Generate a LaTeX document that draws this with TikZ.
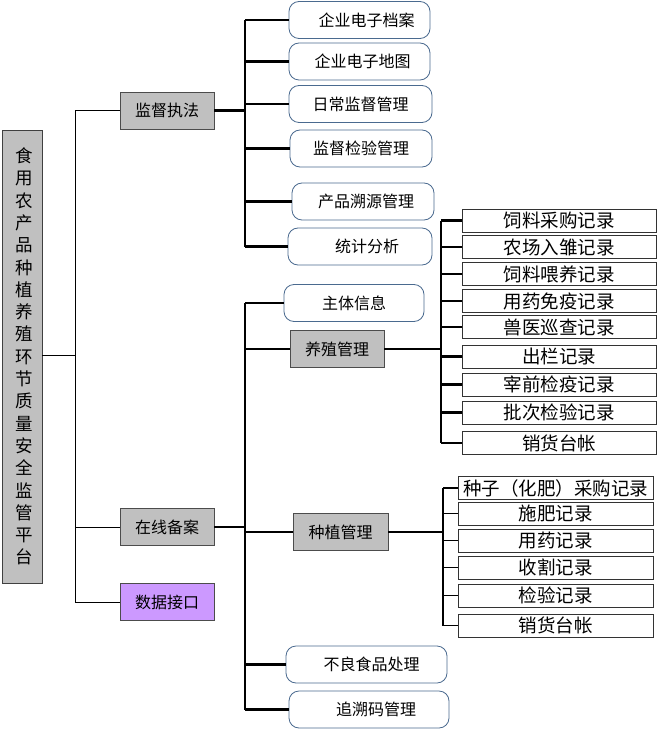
\documentclass[tikz,border=0pt]{standalone}
\usepackage{fontspec}
\setmainfont{Noto Sans CJK SC}
\usetikzlibrary{positioning}
\definecolor{huise}{HTML}{C0C0C0}
\definecolor{zise}{HTML}{CC99FF}
\definecolor{lanbian}{HTML}{4A6A8F}
\tikzset{
  pingtai/.style={
    rectangle, draw=black!75, fill=huise, thick, align=center,
    inner sep=0pt, text width=1.2em, minimum width=40pt, minimum height=453pt,
    font=\fontsize{17.5}{22.3}\selectfont},
  mokuai/.style={
    rectangle, draw=black!70, fill=huise, thick, inner sep=0pt,
    minimum width=94pt, minimum height=37pt, font=\fontsize{16}{18}\selectfont},
  gongneng/.style={
    rectangle, rounded corners=10pt, draw=lanbian, fill=white, thick,
    inner sep=0pt, minimum height=37pt, font=\fontsize{16}{18}\selectfont},
  jilu/.style={
    rectangle, draw=black!80, line width=0.9pt, inner sep=0pt,
    minimum width=194pt, minimum height=23pt, font=\fontsize{18.5}{20}\selectfont},
  xian/.style={line width=1pt},
  cuxian/.style={line width=2.4pt},
  zhongxian/.style={line width=1.5pt}
}

\begin{document}
\begin{tikzpicture}[x=1pt,y=-1pt]
\useasboundingbox (0,0) rectangle (658,730);

% 平台与一级模块
\node[pingtai] (pt) at (22,356.5) {食\\用\\农\\产\\品\\种\\植\\养\\殖\\环\\节\\质\\量\\安\\全\\监\\管\\平\\台};
\node[mokuai] (jd) at (167,110.5) {监督执法};
\node[mokuai] (ba) at (167,527) {在线备案};
\node[mokuai, fill=zise] (jk) at (167,602) {数据接口};

% 监督执法下的功能
\node[gongneng, minimum width=141pt] (a1) at (359.5,20) {\hspace{14pt}企业电子档案};
\node[gongneng, minimum width=141pt] (a2) at (359.5,61.5) {\hspace{6pt}企业电子地图};
\node[gongneng, minimum width=143pt] (a3) at (360.5,104) {日常监督管理};
\node[gongneng, minimum width=142pt] (a4) at (361,148.5) {监督检验管理};
\node[gongneng, minimum width=142pt] (a5) at (363,201.5) {\hspace{6pt}产品溯源管理};
\node[gongneng, minimum width=144pt] (a6) at (360,246.5) {\hspace{14pt}统计分析};

% 在线备案下的功能
\node[gongneng, minimum width=140pt] (b1) at (354,303) {主体信息};
\node[mokuai] (yz) at (337,349) {养殖管理};
\node[mokuai, minimum width=95pt] (zz) at (340.5,532) {种植管理};
\node[gongneng, minimum width=161pt] (b4) at (366.5,664.5) {\hspace{10pt}不良食品处理};
\node[gongneng, minimum width=160pt] (b5) at (369,709.5) {\hspace{14pt}追溯码管理};

% 养殖记录
\node[jilu] (y1) at (559,220.5) {饲料采购记录};
\node[jilu] (y2) at (559,247) {农场入雏记录};
\node[jilu] (y3) at (559,274) {饲料喂养记录};
\node[jilu] (y4) at (559,301) {用药免疫记录};
\node[jilu] (y5) at (559,327) {兽医巡查记录};
\node[jilu] (y6) at (559,356.5) {出栏记录};
\node[jilu] (y7) at (559,384.5) {宰前检疫记录};
\node[jilu] (y8) at (559,412.5) {批次检验记录};
\node[jilu] (y9) at (559,443) {销货台帐};

% 种植记录
\node[jilu, minimum width=195pt] (z1) at (555.5,488) {种子（化肥）采购记录};
\node[jilu, minimum width=195pt] (z2) at (555.5,513.5) {施肥记录};
\node[jilu, minimum width=195pt] (z3) at (555.5,540.5) {用药记录};
\node[jilu, minimum width=195pt] (z4) at (555.5,567.5) {收割记录};
\node[jilu, minimum width=195pt] (z5) at (555.5,595.5) {检验记录};
\node[jilu, minimum width=195pt] (z6) at (555.5,625.5) {销货台帐};

% 竖线位置
\coordinate (g0) at (75,0);
\coordinate (g1) at (245,0);
\coordinate (g2) at (441,0);
\coordinate (g3) at (443,0);

% 平台 -> 一级
\draw[xian] (pt.east |- 0,355) -- (g0 |- 0,355);
\draw[xian] (g0 |- jd.west) -- (g0 |- jk.west);
\foreach \n in {jd,ba,jk}
  \draw[xian] (g0 |- \n.west) -- (\n.west);

% 监督执法 -> 功能
\draw[cuxian] (jd.east) -- (g1 |- jd.east);
\draw[zhongxian] (g1 |- a1.west) -- (g1 |- a6.west);
\foreach \n in {a1,a2,a3,a4,a5,a6}
  \draw[cuxian] (g1 |- \n.west) -- (\n.west);

% 在线备案 -> 功能
\draw[cuxian] (ba.east) -- (g1 |- ba.east);
\draw[zhongxian] (g1 |- b1.west) -- (g1 |- b5.west);
\foreach \n in {b1,yz,zz,b4,b5}
  \draw[cuxian] (g1 |- \n.west) -- (\n.west);

% 养殖管理 -> 记录
\draw[cuxian] (yz.east) -- (g2 |- yz.east);
\draw[zhongxian] (g2 |- y1.west) -- (g2 |- y9.west);
\foreach \n in {y1,y2,y3,y4,y5,y6,y7,y8,y9}
  \draw[cuxian] (g2 |- \n.west) -- (\n.west);

% 种植管理 -> 记录
\draw[cuxian] (zz.east) -- (g3 |- zz.east);
\draw[zhongxian] (g3 |- z1.west) -- (g3 |- z6.west);
\foreach \n in {z1,z2,z3,z4,z5,z6}
  \draw[zhongxian] (g3 |- \n.west) -- (\n.west);

\end{tikzpicture}
\end{document}
